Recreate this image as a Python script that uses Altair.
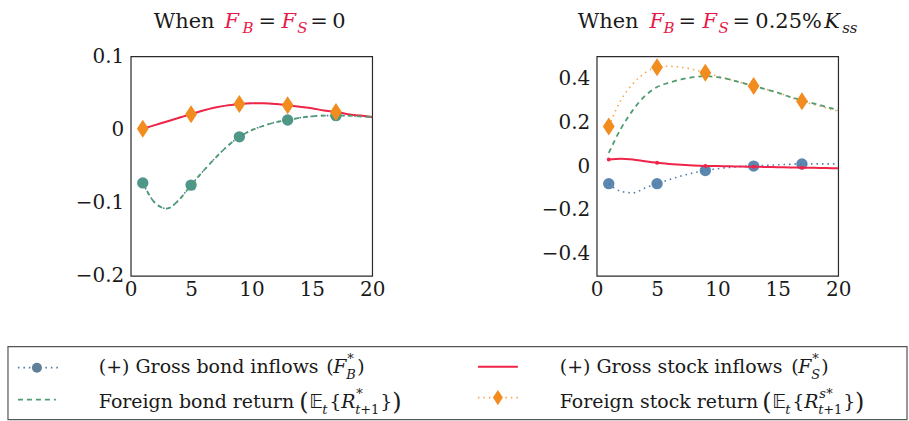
import altair as alt
import pandas as pd

SERIF = "DejaVu Serif"
BLACK = "#1a1a1a"
RED_T = "#e8194a"

# ---------------- data ----------------
periods = list(range(1, 21))
marker_periods = [1, 5, 9, 13, 17]
x_ticks = [0, 5, 10, 15, 20]

# Left panel: F_B = F_S = 0
left_bond_inflows = [-0.073, -0.100, -0.108, -0.096, -0.076, -0.057, -0.039, -0.023, -0.010, -0.001,
                     0.005, 0.010, 0.013, 0.016, 0.018, 0.019, 0.019, 0.019, 0.018, 0.017]
left_bond_return = [-0.073, -0.100, -0.108, -0.096, -0.076, -0.057, -0.039, -0.023, -0.010, -0.001,
                    0.005, 0.010, 0.013, 0.016, 0.018, 0.019, 0.019, 0.019, 0.018, 0.017]
left_stock_inflows = [0.001, 0.006, 0.011, 0.016, 0.021, 0.026, 0.030, 0.033, 0.035, 0.036,
                      0.036, 0.035, 0.033, 0.031, 0.029, 0.026, 0.024, 0.021, 0.019, 0.017]
left_stock_return = [0.001, 0.006, 0.011, 0.016, 0.021, 0.026, 0.030, 0.033, 0.035, 0.036,
                     0.036, 0.035, 0.033, 0.031, 0.029, 0.026, 0.024, 0.021, 0.019, 0.017]
left_y_domain = [-0.2, 0.1]
left_y_ticks = [-0.2, -0.1, 0, 0.1]

# Right panel: F_B = F_S = 0.25% K_ss
right_bond_inflows = [-0.080, -0.115, -0.122, -0.100, -0.080, -0.062, -0.045, -0.031, -0.020, -0.012,
                      -0.006, -0.002, 0.000, 0.003, 0.006, 0.008, 0.010, 0.010, 0.010, 0.010]
right_bond_return = [0.060, 0.170, 0.255, 0.320, 0.360, 0.380, 0.395, 0.405, 0.410, 0.405,
                     0.395, 0.380, 0.365, 0.350, 0.335, 0.315, 0.300, 0.285, 0.270, 0.255]
right_stock_inflows = [0.030, 0.034, 0.030, 0.022, 0.015, 0.010, 0.006, 0.003, 0.001, 0.000,
                       -0.001, -0.002, -0.003, -0.004, -0.005, -0.006, -0.007, -0.008, -0.009, -0.010]
right_stock_return = [0.180, 0.300, 0.375, 0.425, 0.450, 0.455, 0.450, 0.440, 0.425, 0.410,
                      0.395, 0.380, 0.365, 0.350, 0.335, 0.315, 0.295, 0.280, 0.265, 0.250]
right_y_domain = [-0.5, 0.5]
right_y_ticks = [-0.4, -0.2, 0, 0.2, 0.4]

# ---------------- styles ----------------
C_BOND_IN = "#4a7aa6"
C_BOND_IN_LEFT = "#3c8c7e"
C_BOND_RET = "#4f9c72"
C_STOCK_IN = "#ee2449"
C_STOCK_RET = "#f28c1e"
DIAMOND = "M0,-1.45L0.95,0L0,1.45L-0.95,0Z"
W, H = 242, 220
LEFT_ORIGIN = (130, 55)
RIGHT_ORIGIN = (597, 55)

dummy = pd.DataFrame({"k": [0]})


def txt(s, x, y, size, italic=False, color=BLACK, font=SERIF, origin=LEFT_ORIGIN):
    return alt.Chart(dummy).mark_text(
        text=s, font=font, fontSize=size, fontStyle="italic" if italic else "normal",
        color=color, align="left", baseline="alphabetic"
    ).encode(x=alt.value(x - origin[0]), y=alt.value(y - origin[1]))


def panel(bi, br, si, sr, ydom, yticks, circ_color):
    df = pd.DataFrame({"t": periods, "bi": bi, "br": br, "si": si, "sr": sr})
    xenc = alt.X("t:Q", scale=alt.Scale(domain=[0, 20], nice=False, zero=False),
                 axis=alt.Axis(values=x_ticks, title=None, labelPadding=4, labelFlush=False))
    yaxis = alt.Axis(values=yticks, format=".1~f", title=None, labelPadding=7, labelFlush=False)
    ysc = alt.Scale(domain=ydom, nice=False, zero=False)
    base = alt.Chart(df).encode(x=xenc)
    mk = base.transform_filter(alt.FieldOneOfPredicate(field="t", oneOf=marker_periods))

    def y(f):
        return alt.Y(f"{f}:Q", scale=ysc, axis=yaxis)

    return [
        base.mark_line(color=C_BOND_IN, strokeWidth=1.6, strokeDash=[1.5, 4],
                       interpolate="monotone").encode(y=y("bi")),
        mk.mark_point(shape="circle", filled=True, size=130, color=circ_color,
                      opacity=0.9).encode(y=y("bi")),
        base.mark_line(color=C_STOCK_RET, strokeWidth=1.6, strokeDash=[1.5, 4], opacity=0.75,
                       interpolate="monotone").encode(y=y("sr")),
        base.mark_line(color=C_STOCK_IN, strokeWidth=2, interpolate="monotone").encode(y=y("si")),
        mk.mark_point(shape="circle", filled=True, size=16, color=C_STOCK_IN,
                      opacity=1).encode(y=y("si")),
        base.mark_line(color=C_BOND_RET, strokeWidth=1.8, strokeDash=[5, 4],
                       interpolate="monotone").encode(y=y("br")),
        mk.mark_point(shape=DIAMOND, filled=True, size=155, color=C_STOCK_RET,
                      opacity=1).encode(y=y("sr")),
    ]


# ---------------- titles ----------------
left_title = [
    ("When", 153, 27, 21, False, BLACK), ("F", 224, 27, 21, True, RED_T),
    ("B", 242, 32, 15, True, RED_T), ("=", 258, 27, 21, False, BLACK),
    ("F", 281, 27, 21, True, RED_T), ("S", 297, 32, 15, True, RED_T),
    ("=", 310, 27, 21, False, BLACK), ("0", 332, 27, 21, False, BLACK),
]
right_title = [
    ("When", 578, 27, 21, False, BLACK), ("F", 650, 27, 21, True, RED_T),
    ("B", 664, 32, 15, True, RED_T), ("=", 679, 27, 21, False, BLACK),
    ("F", 703, 27, 21, True, RED_T), ("S", 719, 32, 15, True, RED_T),
    ("=", 733, 27, 21, False, BLACK), ("0.25%", 756, 27, 21, False, BLACK),
    ("K", 825, 27, 21, True, BLACK), ("ss", 843, 32, 15, True, BLACK),
]

# ---------------- legend (text pieces) ----------------
DS = "DejaVu Sans"
legend_text = [
    ("(+) Gross bond inflows", 98, 372, 19, False, SERIF),
    ("(", 326, 372, 19, False, SERIF), ("F", 333, 372, 19, True, SERIF),
    ("*", 347, 362, 13, False, SERIF), ("B", 346, 378, 13, True, SERIF),
    (")", 357, 372, 19, False, SERIF),
    ("Foreign bond return", 98, 407, 19, False, SERIF),
    ("(", 299, 409, 24, False, SERIF), ("\U0001D53C", 309, 407, 19, False, DS),
    ("t", 322, 413, 13, True, SERIF), ("{", 329, 407, 19, False, SERIF),
    ("R", 341, 407, 19, True, SERIF), ("*", 356, 397, 13, False, SERIF),
    ("t", 355, 413, 13, True, SERIF), ("+1", 360, 413, 13, False, SERIF),
    ("}", 380, 407, 19, False, SERIF), (")", 392, 409, 24, False, SERIF),
    ("(+) Gross stock inflows", 560, 372, 19, False, SERIF),
    ("(", 792, 372, 19, False, SERIF), ("F", 799, 372, 19, True, SERIF),
    ("*", 813, 362, 13, False, SERIF), ("S", 812, 378, 13, True, SERIF),
    (")", 822, 372, 19, False, SERIF),
    ("Foreign stock return", 560, 407, 19, False, SERIF),
    ("(", 763, 409, 24, False, SERIF), ("\U0001D53C", 773, 407, 19, False, DS),
    ("t", 786, 413, 13, True, SERIF), ("{", 793, 407, 19, False, SERIF),
    ("R", 805, 407, 19, True, SERIF), ("s", 820, 397, 13, True, SERIF),
    ("*", 827, 397, 13, False, SERIF), ("t", 819, 413, 13, True, SERIF),
    ("+1", 824, 413, 13, False, SERIF), ("}", 844, 407, 19, False, SERIF),
    (")", 856, 409, 24, False, SERIF),
]


def rel(v, axis):
    return v - LEFT_ORIGIN[axis]


# invisible anchor covering the whole canvas (keeps the layout fixed)
anchor = alt.Chart(dummy).mark_rect(fill="white", fillOpacity=0, strokeWidth=0).encode(
    x=alt.value(rel(0, 0)), x2=alt.value(rel(909, 0)),
    y=alt.value(rel(0, 1)), y2=alt.value(rel(421, 1)))

legend_box = alt.Chart(dummy).mark_rect(fill="white", stroke="#555555", strokeWidth=1.2).encode(
    x=alt.value(rel(7, 0)), x2=alt.value(rel(908, 0)),
    y=alt.value(rel(346, 1)), y2=alt.value(rel(419, 1)))


def hline(x1, x2, yv, color, dash=None, width=1.6, opacity=1.0):
    kw = dict(color=color, strokeWidth=width, opacity=opacity)
    if dash:
        kw["strokeDash"] = dash
    return alt.Chart(dummy).mark_rule(**kw).encode(
        x=alt.value(rel(x1, 0)), x2=alt.value(rel(x2, 0)), y=alt.value(rel(yv, 1)))


def sym(xv, yv, shape, size, color):
    return alt.Chart(dummy).mark_point(shape=shape, filled=True, size=size, color=color, opacity=1).encode(
        x=alt.value(rel(xv, 0)), y=alt.value(rel(yv, 1)))


legend_marks = [
    legend_box,
    hline(17, 57, 367, C_BOND_IN, [1.5, 4]), sym(36, 367, "circle", 100, "#5f7f99"),
    hline(17, 55, 399, C_BOND_RET, [5, 4], 1.8),
    hline(478, 518, 366, C_STOCK_IN, None, 2),
    hline(478, 518, 397, C_STOCK_RET, [1.5, 4], 1.6, 0.75), sym(498, 397, DIAMOND, 110, C_STOCK_RET),
]
legend_marks += [txt(s, x, y, sz, it, BLACK, f) for (s, x, y, sz, it, f) in legend_text]

left_layers = [anchor] + panel(left_bond_inflows, left_bond_return, left_stock_inflows, left_stock_return,
                               left_y_domain, left_y_ticks, C_BOND_IN_LEFT)
left_layers += [txt(s, x, y, sz, it, c) for (s, x, y, sz, it, c) in left_title]
left_layers += legend_marks

right_layers = panel(right_bond_inflows, right_bond_return, right_stock_inflows, right_stock_return,
                     right_y_domain, right_y_ticks, C_BOND_IN)
right_layers += [txt(s, x, y, sz, it, c, origin=RIGHT_ORIGIN) for (s, x, y, sz, it, c) in right_title]

left = alt.layer(*left_layers).properties(width=W, height=H)
right = alt.layer(*right_layers).properties(width=W, height=H)

chart = alt.hconcat(left, right, spacing=225, bounds="flush").properties(
    padding=0
).configure_axis(
    labelFont=SERIF, labelFontSize=20, labelColor=BLACK, ticks=False, domain=False, grid=False
).configure_view(
    stroke="#2a2a2a", strokeWidth=1.2
)

chart.save("out.html", embed_options={"renderer": "svg", "actions": False})
